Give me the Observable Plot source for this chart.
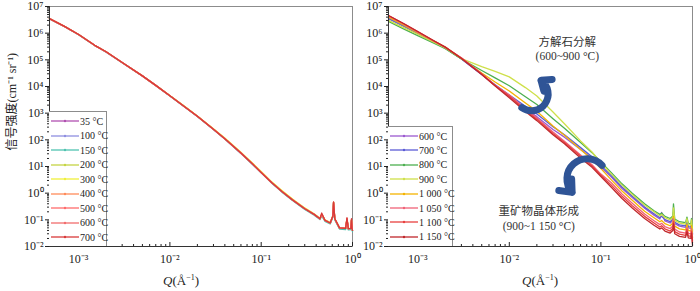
<!DOCTYPE html>
<html><head><meta charset="utf-8">
<script src="https://cdn.jsdelivr.net/npm/d3@7"></script>
<script src="https://cdn.jsdelivr.net/npm/@observablehq/plot@0.6"></script>
<style>
body{margin:0;background:#fff;}
#wrap{position:relative;width:700px;height:291px;font-family:"Liberation Serif","Noto Sans CJK SC",serif;color:#222;overflow:hidden;}
.pan{position:absolute;top:0;}
.pan svg{background:transparent!important;overflow:visible;}
.legend{position:absolute;background:#fff;border-top:1px solid #8c8c8c;border-right:1px solid #8c8c8c;box-sizing:border-box;}
.row{position:absolute;left:0;height:12px;display:flex;align-items:center;font-size:10px;white-space:nowrap;}
.xt{position:absolute;font-size:13px;top:273px;transform:translateX(-50%);white-space:nowrap;}
.xt sup{font-size:8px;}
</style></head>
<body><div id="wrap"></div>
<script>
// ---- data ----
const Q = [4.8e-4, 7e-4, 1e-3, 1.5e-3, 2e-3, 3e-3, 5e-3, 7e-3, 1e-2, 1.5e-2, 2e-2, 3e-2, 4e-2, 6e-2, 0.08, 0.1, 0.13, 0.17, 0.22, 0.3, 0.38, 0.44, 0.46, 0.5, 0.57, 0.61, 0.62, 0.64, 0.72, 0.84, 0.87, 0.9, 0.96, 0.975, 0.99, 1.0];

const leftNames = ["35 °C","100 °C","150 °C","200 °C","300 °C","400 °C","500 °C","600 °C","700 °C"];
const leftColors = ["#b04fb0","#8f8fe0","#4fc3b0","#c5d444","#f0f03a","#ff8c5a","#ff6b6b","#f26d6d","#d83a3a"];
const L35  = [3.4e6,1.75e6,8.7e5,3.45e5,1.95e5,7.8e4,2.45e4,1.08e4,4.4e3,1.58e3,750,245,108,31,12.3,5.9,2.45,1.1,0.55,0.255,0.158,0.108,0.15,0.093,0.075,0.13,0.42,0.105,0.049,0.047,0.1,0.046,0.047,0.095,0.046,0.039];
const L100 = [3.5e6,1.8e6,8.9e5,3.5e5,2.0e5,7.9e4,2.5e4,1.1e4,4.5e3,1.6e3,760,250,110,32,12.6,6.0,2.5,1.12,0.57,0.27,0.16,0.11,0.15,0.095,0.076,0.14,0.44,0.11,0.05,0.048,0.1,0.047,0.048,0.1,0.047,0.04];
const L150 = [3.4e6,1.78e6,8.8e5,3.45e5,1.98e5,7.8e4,2.48e4,1.09e4,4.45e3,1.58e3,750,246,107,31,12.2,5.8,2.4,1.07,0.53,0.245,0.15,0.102,0.14,0.088,0.07,0.125,0.4,0.1,0.045,0.043,0.095,0.042,0.043,0.09,0.042,0.036];
const L200 = [3.5e6,1.8e6,8.9e5,3.5e5,2.0e5,7.9e4,2.5e4,1.1e4,4.5e3,1.62e3,770,255,113,33,13.0,6.2,2.6,1.18,0.59,0.27,0.165,0.112,0.16,0.097,0.078,0.14,0.45,0.11,0.05,0.048,0.11,0.047,0.048,0.1,0.047,0.04];
const L300 = [3.5e6,1.8e6,8.9e5,3.5e5,2.0e5,7.9e4,2.5e4,1.1e4,4.6e3,1.65e3,790,262,117,34,13.5,6.5,2.7,1.22,0.6,0.28,0.17,0.115,0.16,0.1,0.08,0.145,0.46,0.112,0.051,0.049,0.11,0.048,0.049,0.1,0.048,0.041];
const L400 = [3.5e6,1.8e6,8.9e5,3.5e5,2.0e5,7.9e4,2.5e4,1.1e4,4.5e3,1.6e3,760,250,110,32,12.6,6.0,2.5,1.13,0.57,0.265,0.162,0.11,0.16,0.096,0.077,0.14,0.45,0.11,0.05,0.048,0.11,0.047,0.048,0.1,0.047,0.04];
const L500 = [3.5e6,1.8e6,8.9e5,3.5e5,2.0e5,7.9e4,2.5e4,1.1e4,4.5e3,1.6e3,760,250,110,32,12.6,6.0,2.5,1.12,0.56,0.26,0.16,0.11,0.16,0.095,0.076,0.14,0.45,0.11,0.05,0.048,0.11,0.047,0.048,0.1,0.047,0.04];
const L600 = [3.5e6,1.8e6,8.9e5,3.5e5,2.0e5,7.9e4,2.5e4,1.1e4,4.5e3,1.6e3,760,250,110,32,12.6,6.0,2.5,1.12,0.56,0.26,0.16,0.11,0.16,0.095,0.076,0.14,0.45,0.11,0.05,0.048,0.11,0.047,0.048,0.1,0.047,0.04];
const L700 = [3.5e6,1.8e6,8.9e5,3.5e5,2.0e5,7.9e4,2.5e4,1.1e4,4.5e3,1.6e3,760,250,110,32,12.6,6.0,2.5,1.12,0.56,0.26,0.16,0.11,0.18,0.095,0.076,0.14,0.47,0.11,0.05,0.048,0.12,0.047,0.048,0.11,0.047,0.04];

const rightNames = ["600 °C","700 °C","800 °C","900 °C","1 000 °C","1 050 °C","1 100 °C","1 150 °C"];
const rightColors = ["#9b59d0","#5b5bd6","#4caf50","#cfe04a","#f4b400","#f06277","#e8403f","#c0282c"];
const R600  = [3.8e6,1.95e6,1.0e6,4.8e5,2.8e5,1.1e5,2.8e4,1.1e4,4.3e3,1.45e3,740,245,126,43,20,9.3,4.0,1.5,0.68,0.27,0.15,0.107,0.19,0.091,0.076,0.095,0.17,0.072,0.058,0.052,0.085,0.050,0.048,0.076,0.046,0.027];
const R700  = [3.5e6,1.82e6,9.5e5,4.6e5,2.75e5,1.07e5,2.8e4,1.17e4,4.8e3,1.8e3,930,310,155,51,23,11,4.5,1.7,0.76,0.30,0.17,0.12,0.135,0.102,0.085,0.107,0.19,0.081,0.065,0.059,0.095,0.056,0.054,0.085,0.051,0.030];
const R800  = [2.75e6,1.45e6,8.1e5,4.2e5,2.6e5,1.07e5,4.0e4,2.1e4,1.07e4,4.1e3,2.1e3,620,270,79,33,14.8,5.9,2.24,1.0,0.40,0.22,0.16,0.18,0.135,0.112,0.14,0.40,0.107,0.085,0.078,0.126,0.074,0.071,0.112,0.068,0.040];
const R900  = [3.0e6,1.62e6,9.1e5,4.6e5,2.8e5,1.12e5,5.6e4,3.7e4,2.3e4,9.1e3,4.4e3,1.1e3,400,91,35,13.8,5.2,2.0,0.89,0.35,0.20,0.14,0.16,0.12,0.10,0.126,0.28,0.095,0.076,0.069,0.112,0.066,0.063,0.10,0.060,0.035];
const R1000 = [4.0e6,2.04e6,1.05e6,5.0e5,3.0e5,1.12e5,3.2e4,1.48e4,6.8e3,2.4e3,1.17e3,330,148,43,18.6,8.3,3.16,1.2,0.54,0.21,0.12,0.085,0.095,0.072,0.060,0.076,0.135,0.058,0.046,0.042,0.068,0.040,0.038,0.060,0.036,0.021];
const R1050 = [4.4e6,2.2e6,1.1e6,5.0e5,2.9e5,1.2e5,3.0e4,1.12e4,4.8e3,1.45e3,660,195,89,27,11.7,5.2,2.45,0.93,0.42,0.166,0.093,0.066,0.074,0.056,0.047,0.059,0.105,0.045,0.035,0.032,0.052,0.031,0.030,0.047,0.028,0.0166];
const R1100 = [4.6e6,2.3e6,1.15e6,5.2e5,3.0e5,1.17e5,2.95e4,1.1e4,4.3e3,1.29e3,590,174,79,24,10.5,4.7,2.0,0.76,0.34,0.135,0.076,0.054,0.060,0.046,0.038,0.048,0.085,0.036,0.029,0.026,0.043,0.025,0.024,0.038,0.023,0.0135];
const R1150 = [4.6e6,2.3e6,1.15e6,5.2e5,3.0e5,1.12e5,2.8e4,1.05e4,3.8e3,1.15e3,525,155,71,21,9.3,4.2,1.66,0.63,0.28,0.112,0.063,0.045,0.05,0.038,0.032,0.04,0.071,0.030,0.024,0.022,0.035,0.021,0.020,0.032,0.019,0.011];

const xTickValues = [1e-3, 1e-2, 1e-1, 1];
const yTickValues = [1e-2, 1e-1, 1, 1e1, 1e2, 1e3, 1e4, 1e5, 1e6, 1e7];
const yTitle = "信号强度(cm⁻¹ sr⁻¹)";
const notes = [
  {Q: 0.043, I: 4.6e5, text: "方解石分解"},
  {Q: 0.043, I: 1.35e5, text: "(600~900 °C)"},
  {Q: 0.021, I: 0.2, text: "重矿物晶体形成"},
  {Q: 0.021, I: 0.058, text: "(900~1 150 °C)"}
];
const arrowsData = [
  {x1: 0.0137, y1: 1.6e3, x2: 0.0222, y2: 1.7e4},
  {x1: 0.103, y1: 11, x2: 0.0485, y2: 1.07}
];

// ---- helpers ----
const SUP = {"-":"⁻","0":"⁰","1":"¹","2":"²","3":"³","4":"⁴","5":"⁵","6":"⁶","7":"⁷","8":"⁸","9":"⁹"};
const fmt = v => "10" + String(Math.round(Math.log10(v))).split("").map(c => SUP[c]).join("");
const minor = (lo, hi) => { const out = []; for (let e = lo; e < hi; e++) for (let m = 2; m <= 9; m++) out.push(m * 10 ** e); return out; };
const xMinor = minor(-4, 0).filter(v => v >= 4.8e-4 && v <= 1);
const yMinor = minor(-2, 7);

function rowsOf(names, series) {
  const rows = [];
  names.forEach((n, i) => series[i].forEach((v, j) => rows.push({Q: Q[j], I: v, T: n})));
  return rows;
}

function panel({names, colors, series, width, ml, mr, extra = []}) {
  return Plot.plot({
    width, height: 291, marginLeft: ml, marginRight: mr, marginTop: 6, marginBottom: 45,
    style: {fontFamily: '"Liberation Serif","Noto Sans CJK SC",serif', fontSize: "12px", color: "#222", background: "transparent", overflow: "visible"},
    x: {type: "log", domain: [4.8e-4, 1]},
    y: {type: "log", domain: [1e-2, 1e7]},
    color: {domain: names, range: colors},
    marks: [
      Plot.frame({stroke: "#8c8c8c"}),
      Plot.line(rowsOf(names, series), {x: "Q", y: "I", z: "T", stroke: "T", strokeWidth: 1.3}),
      Plot.ruleX([4.8e-4], {stroke: "#333"}),
      Plot.ruleY([1e-2], {stroke: "#333"}),
      Plot.axisY({ticks: yTickValues, tickSize: 4, tickPadding: 2, tickFormat: fmt, label: null, fontSize: 12}),
      Plot.axisY({ticks: yMinor, tickSize: 2, tickFormat: () => "", label: null}),
      Plot.axisX({ticks: xTickValues, tickSize: -4, tickFormat: () => "", label: null}),
      Plot.axisX({ticks: xMinor, tickSize: -2, tickFormat: () => "", label: null}),
      Plot.axisX({ticks: xTickValues, tickSize: 0, tickPadding: 8, tickFormat: fmt, label: null, fontSize: 12}),
      ...extra
    ]
  });
}

const wrap = document.getElementById("wrap");
function place(node, left) {
  const d = document.createElement("div"); d.className = "pan"; d.style.left = left + "px";
  d.appendChild(node); wrap.appendChild(d);
}

place(panel({
  names: leftNames, colors: leftColors,
  series: [L35, L100, L150, L200, L300, L400, L500, L600, L700],
  width: 372, ml: 49, mr: 20,
  extra: [Plot.text([yTitle], {frameAnchor: "left", dx: -37, dy: 24, rotate: -90, fontSize: 12})]
}), 0);

place(panel({
  names: rightNames, colors: rightColors,
  series: [R600, R700, R800, R900, R1000, R1050, R1100, R1150],
  width: 344, ml: 32, mr: 8,
  extra: [
    Plot.arrow(arrowsData, {x1: "x1", y1: "y1", x2: "x2", y2: "y2", bend: -110, stroke: "#2f5496", strokeWidth: 7, headLength: 7, headAngle: 80}),
    Plot.text(notes, {x: "Q", y: "I", text: "text", fontSize: 11.5, fill: "#333"})
  ]
}), 356);

function legend(names, colors, left, top, width, step) {
  const box = document.createElement("div"); box.className = "legend";
  box.style.left = left + "px"; box.style.top = top + "px"; box.style.width = width + "px";
  box.style.height = (246 - top) + "px";
  names.forEach((n, i) => {
    const r = document.createElement("div"); r.className = "row";
    r.style.top = (3 + i * step) + "px";
    r.innerHTML = `<svg width="30" height="8" style="margin-left:1px"><line x1="1" x2="29" y1="4" y2="4" stroke="${colors[i]}" stroke-width="1.3"/><circle cx="15" cy="4" r="1.2" fill="${colors[i]}"/></svg><span>${n}</span>`;
    box.appendChild(r);
  });
  wrap.appendChild(box);
}
legend(leftNames, leftColors, 49, 111, 58, 14.5);
legend(rightNames, rightColors, 388, 126, 65, 14.4);

function xTitle(center) {
  const d = document.createElement("div"); d.className = "xt"; d.style.left = center + "px";
  d.innerHTML = "<i>Q</i>(Å<sup>−1</sup>)"; wrap.appendChild(d);
}
xTitle(181); xTitle(540);
</script></body></html>
